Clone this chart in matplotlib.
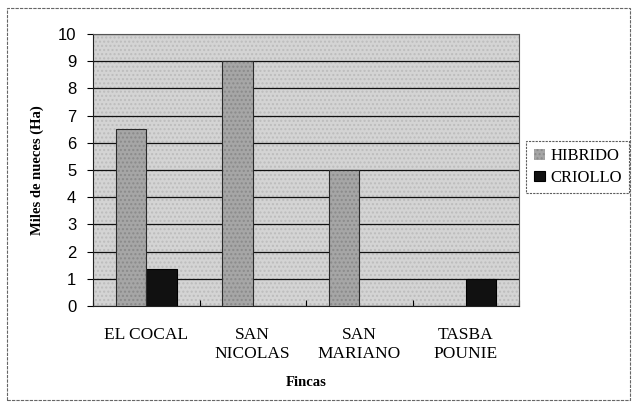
import numpy as np
import matplotlib
matplotlib.use('Agg')
import matplotlib.pyplot as plt
from matplotlib.patches import Rectangle

# data
fincas = ['EL COCAL', 'SAN\nNICOLAS', 'SAN\nMARIANO', 'TASBA\nPOUNIE']
hibrido = [6.5, 9.0, 5.0, 0.0]
criollo = [1.35, 0.0, 0.0, 1.0]
yticks = [0, 1, 2, 3, 4, 5, 6, 7, 8, 9, 10]

serif = 'Liberation Serif'
sans = 'Liberation Sans'

fig = plt.figure(figsize=(6.38, 4.09), dpi=100)
ax = fig.add_axes([93/638, 1-306/409, (519-93)/638, (306-34)/409])

# stippled grey plot area
ax.set_facecolor('#d4d4d4')
ax.add_patch(Rectangle((0, 0), 1, 1, transform=ax.transAxes, facecolor='none',
                       edgecolor='#bcbcbc', hatch='....', linewidth=0, zorder=0))

x = np.arange(len(fincas))
w = 0.285
ax.bar(x - w/2, hibrido, w, color='#a6a6a6', edgecolor='#8a8a8a', linewidth=0,
       hatch='....', label='HIBRIDO', zorder=3)
ax.bar(x - w/2, hibrido, w, fill=False, edgecolor='#2a2a2a', linewidth=0.8,
       zorder=4)
ax.bar(x + w/2, criollo, w, color='#111111', edgecolor='#000000', linewidth=0.8,
       label='CRIOLLO', zorder=3)

ax.set_xlim(-0.5, len(fincas) - 0.5)
ax.set_ylim(0, 10)
ax.set_yticks(yticks)
ax.yaxis.grid(True, color='#111111', linewidth=0.9)
ax.set_axisbelow(True)
for s in ['top', 'right']:
    ax.spines[s].set_linestyle((0, (1, 1)))
    ax.spines[s].set_color('#555555')
for s in ['left', 'bottom']:
    ax.spines[s].set_color('#222222')

ax.set_xticks(np.arange(len(fincas) + 1) - 0.5, minor=False)
ax.set_xticklabels([])
ax.set_xticks(x, minor=True)
ax.set_xticklabels(fincas, minor=True, fontfamily=serif, fontsize=12.5,
                   linespacing=1.3)
ax.tick_params(axis='x', which='minor', length=0, pad=15)
ax.tick_params(axis='x', which='major', length=4, direction='in')
ax.tick_params(axis='y', length=4, labelsize=12, pad=8)
for t in ax.get_yticklabels():
    t.set_fontfamily(sans)

ax.set_ylabel('Miles de nueces (Ha)', fontfamily=serif, fontweight='bold',
              fontsize=10.5, labelpad=10)
ax.set_xlabel('Fincas', fontfamily=serif, fontweight='bold', fontsize=10.5,
              labelpad=10)

leg = ax.legend(loc='center left', bbox_to_anchor=(526/638, 1-167/409),
                bbox_transform=fig.transFigure, frameon=True, fancybox=False,
                prop={'family': serif, 'size': 12}, handlelength=0.7,
                handleheight=0.6, handletextpad=0.3, borderpad=0.45,
                labelspacing=0.35, borderaxespad=0)
leg.get_frame().set_edgecolor('#333333')
leg.get_frame().set_linestyle((0, (2, 1)))
leg.get_frame().set_linewidth(0.8)

# dashed outer frame of the chart
fig.patches.append(Rectangle((7/638, 1-400/409), 623/638, 392/409,
                             transform=fig.transFigure, fill=False,
                             edgecolor='#666666', linewidth=0.8,
                             linestyle=(0, (3, 1))))

fig.savefig('out.png', dpi=100)
